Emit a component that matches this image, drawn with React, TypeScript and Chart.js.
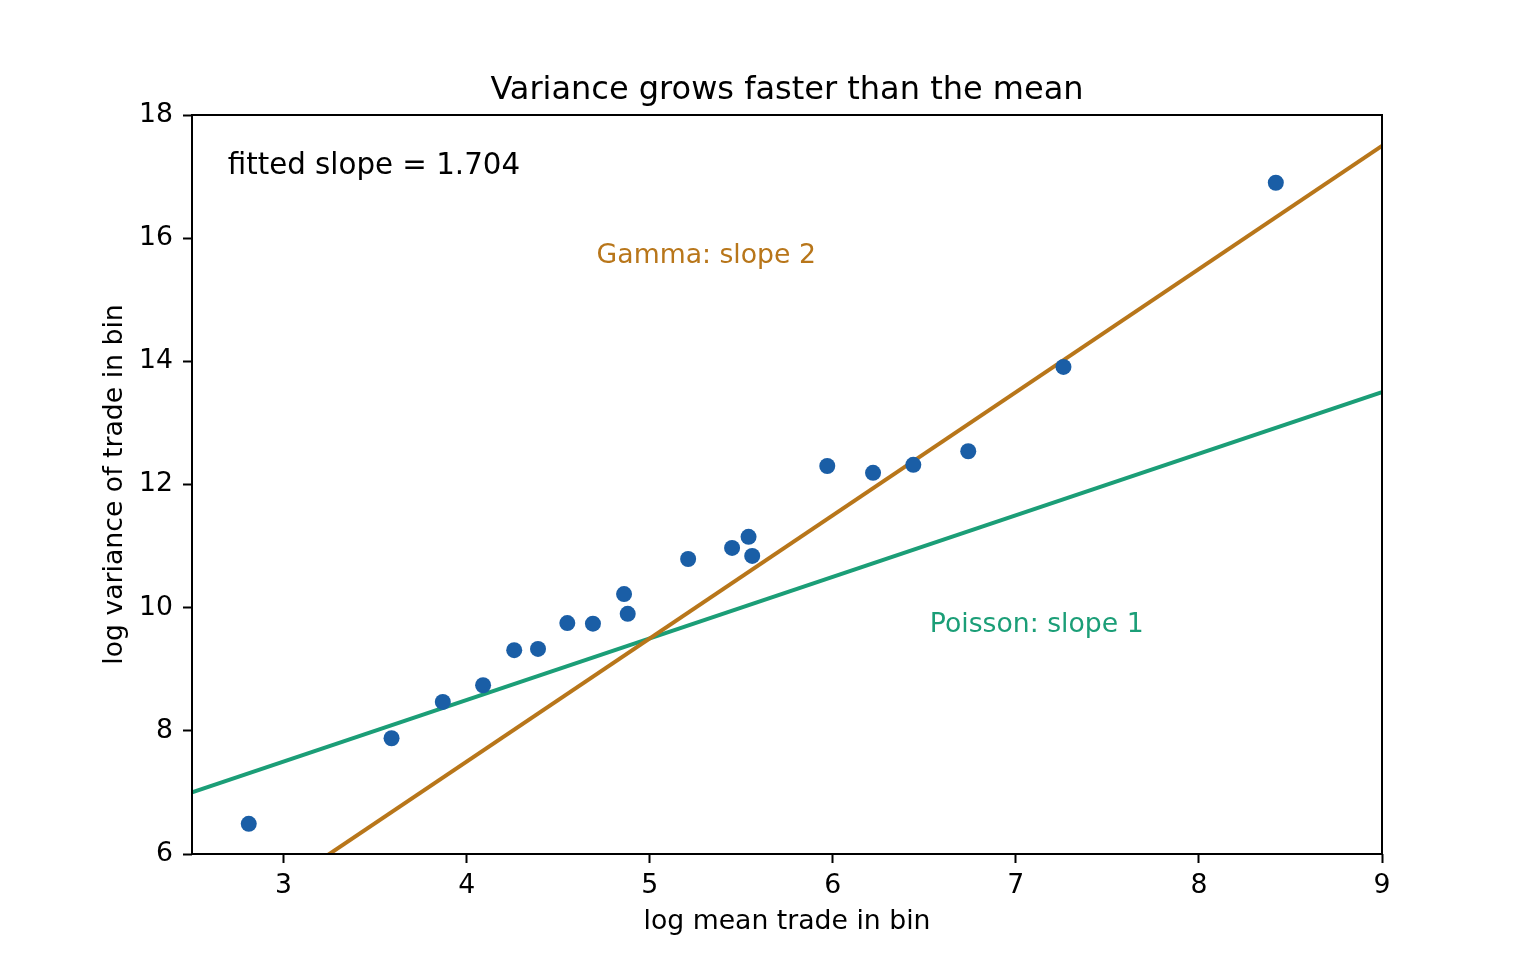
import React, { useEffect, useRef } from 'react';
import { Chart, registerables } from 'chart.js';

Chart.register(...registerables);

// binned trade data (log scale)
const logMean = [2.81, 3.59, 3.87, 4.09, 4.26, 4.39, 4.55, 4.69, 4.86, 4.88, 5.21, 5.45, 5.54, 5.56, 5.97, 6.22, 6.44, 6.74, 7.26, 8.42];
const logVariance = [6.49, 7.88, 8.47, 8.74, 9.31, 9.33, 9.75, 9.74, 10.22, 9.9, 10.79, 10.97, 11.15, 10.84, 12.3, 12.19, 12.32, 12.54, 13.91, 16.9];

// reference lines, end points
const refLineX = [2.5, 9];
const poissonY = [7, 13.5];
const gammaY = [4.5, 17.5];

const xTicks = [3, 4, 5, 6, 7, 8, 9];
const yTicks = [6, 8, 10, 12, 14, 16, 18];

const annotations = [
  { text: 'fitted slope = 1.704', x: 2.695, y: 17.04, color: '#000000', size: 29.3 },
  { text: 'Gamma: slope 2', x: 4.71, y: 15.6, color: '#b8761a', size: 26.7 },
  { text: 'Poisson: slope 1', x: 6.53, y: 9.6, color: '#1b9e77', size: 26.7 },
];

const FONT = '"DejaVu Sans", sans-serif';

const frameAndText = {
  id: 'frameAndText',
  afterDraw(chart: any) {
    const { ctx, chartArea, scales } = chart;
    ctx.save();
    ctx.strokeStyle = '#000';
    ctx.lineWidth = 2;
    ctx.strokeRect(chartArea.left, chartArea.top, chartArea.right - chartArea.left, chartArea.bottom - chartArea.top);

    ctx.textBaseline = 'alphabetic';
    ctx.textAlign = 'left';
    annotations.forEach((a) => {
      ctx.font = `${a.size}px ${FONT}`;
      ctx.fillStyle = a.color;
      ctx.fillText(a.text, scales.x.getPixelForValue(a.x), scales.y.getPixelForValue(a.y));
    });

    ctx.font = `32px ${FONT}`;
    ctx.fillStyle = '#000';
    ctx.textAlign = 'center';
    ctx.fillText('Variance grows faster than the mean', (chartArea.left + chartArea.right) / 2, chartArea.top - 16);
    ctx.restore();
  },
};

const App: React.FC = () => {
  const canvasRef = useRef<HTMLCanvasElement>(null);

  useEffect(() => {
    if (!canvasRef.current) return;
    const ctx = canvasRef.current.getContext('2d');
    if (!ctx) return;

    const chart = new Chart(ctx, {
      type: 'scatter',
      data: {
        datasets: [
          {
            label: 'bins',
            data: logMean.map((x, i) => ({ x, y: logVariance[i] })),
            backgroundColor: '#1a5ea6',
            borderWidth: 0,
            pointRadius: 8,
            pointHoverRadius: 8,
          },
          {
            label: 'Gamma',
            type: 'line',
            data: refLineX.map((x, i) => ({ x, y: gammaY[i] })),
            borderColor: '#b8761a',
            borderWidth: 4,
            pointRadius: 0,
            fill: false,
          },
          {
            label: 'Poisson',
            type: 'line',
            data: refLineX.map((x, i) => ({ x, y: poissonY[i] })),
            borderColor: '#1b9e77',
            borderWidth: 4,
            pointRadius: 0,
            fill: false,
          },
        ],
      },
      options: {
        responsive: false,
        animation: false,
        devicePixelRatio: 1,
        layout: { padding: { top: 115, right: 154, left: 0, bottom: 0 } },
        plugins: {
          legend: { display: false },
          tooltip: { enabled: false },
        },
        scales: {
          x: {
            type: 'linear',
            min: 2.5,
            max: 9,
            afterFit: (scale: any) => {
              scale.height = 106;
            },
            afterBuildTicks: (scale: any) => {
              scale.ticks = xTicks.map((value) => ({ value }));
            },
            border: { display: false },
            grid: {
              drawOnChartArea: false,
              drawTicks: true,
              tickLength: 9,
              tickWidth: 2,
              tickColor: '#000',
            },
            ticks: {
              color: '#000',
              padding: 7,
              maxRotation: 0,
              font: { family: FONT, size: 26.7 },
            },
            title: {
              display: true,
              text: 'log mean trade in bin',
              color: '#000',
              padding: { top: 0, bottom: 22 },
              font: { family: FONT, size: 26.7 },
            },
          },
          y: {
            type: 'linear',
            min: 6,
            max: 18,
            afterFit: (scale: any) => {
              scale.width = 192;
            },
            afterBuildTicks: (scale: any) => {
              scale.ticks = yTicks.map((value) => ({ value }));
            },
            border: { display: false },
            grid: {
              drawOnChartArea: false,
              drawTicks: true,
              tickLength: 9,
              tickWidth: 2,
              tickColor: '#000',
            },
            ticks: {
              color: '#000',
              padding: 10,
              font: { family: FONT, size: 26.7 },
            },
            title: {
              display: true,
              text: 'log variance of trade in bin',
              color: '#000',
              padding: { top: 99, bottom: 0 },
              font: { family: FONT, size: 26.7 },
            },
          },
        },
      },
      plugins: [frameAndText],
    });

    return () => {
      chart.destroy();
    };
  }, []);

  return (
    <div style={{ position: 'absolute', left: 0, top: 0, width: 1536, height: 960, background: '#fff' }}>
      <canvas ref={canvasRef} width={1536} height={960}></canvas>
    </div>
  );
};

export default App;
